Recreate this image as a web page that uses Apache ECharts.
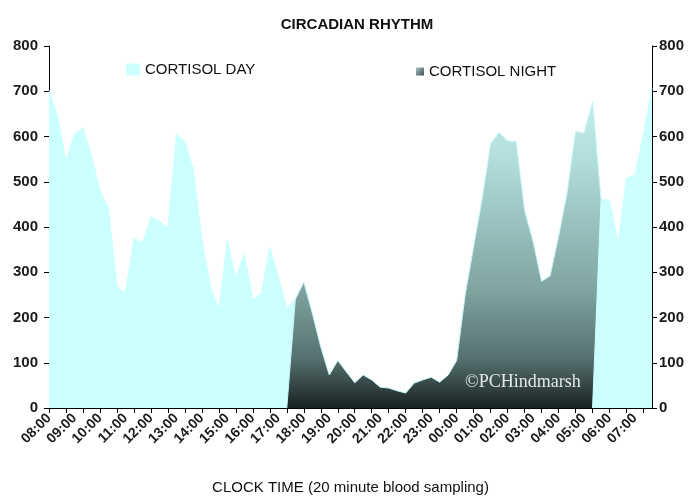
<!DOCTYPE html>
<html>
<head>
<meta charset="utf-8">
<style>
    html, body { margin: 0; padding: 0; background: #fff; }
    #chart { width: 690px; height: 497px; }
</style>
<script src="https://cdn.jsdelivr.net/npm/echarts@6/dist/echarts.min.js"></script>
</head>
<body>
<div id="chart"></div>
<script>
    // 20 minute samples, 08:00 -> 07:40
    var clockTimes = [
        '08:00','08:20','08:40','09:00','09:20','09:40','10:00','10:20','10:40','11:00','11:20','11:40',
        '12:00','12:20','12:40','13:00','13:20','13:40','14:00','14:20','14:40','15:00','15:20','15:40',
        '16:00','16:20','16:40','17:00','17:20','17:40','18:00','18:20','18:40','19:00','19:20','19:40',
        '20:00','20:20','20:40','21:00','21:20','21:40','22:00','22:20','22:40','23:00','23:20','23:40',
        '00:00','00:20','00:40','01:00','01:20','01:40','02:00','02:20','02:40','03:00','03:20','03:40',
        '04:00','04:20','04:40','05:00','05:20','05:40','06:00','06:20','06:40','07:00','07:20','07:40'
    ];
    // day samples before the night (08:00 - 17:40)
    var cortisolDayEarly = [
        702, 645, 546, 605, 619, 558, 481, 442, 268, 255,
        374, 365, 423, 413, 397, 605, 588, 526, 375, 268,
        218, 371, 285, 342, 238, 254, 356, 290, 221, 240,
        null, null, null, null, null, null, null, null, null, null,
        null, null, null, null, null, null, null, null, null, null,
        null, null, null, null, null, null, null, null, null, null,
        null, null, null, null, null, null, null, null, null, null,
        null, null
    ];
    // day samples after the night (05:20 - 07:40)
    var cortisolDayLate = [
        null, null, null, null, null, null, null, null, null, null,
        null, null, null, null, null, null, null, null, null, null,
        null, null, null, null, null, null, null, null, null, null,
        null, null, null, null, null, null, null, null, null, null,
        null, null, null, null, null, null, null, null, null, null,
        null, null, null, null, null, null, null, null, null, null,
        null, null, null, null,
        0, 460, 460, 364, 508, 515, 607, 707
    ];
    var cortisolNight = [
        null, null, null, null, null, null, null, null, null, null,
        null, null, null, null, null, null, null, null, null, null,
        null, null, null, null, null, null, null, null,
        0, 240, 278, 210, 135, 73, 105, 80, 56, 73, 62,
        46, 44, 38, 33, 55, 62, 68, 57, 73, 105,
        250, 357, 462, 584, 609, 590, 589, 436, 368, 280,
        292, 379, 475, 611, 607, 677, 460,
        null, null, null, null, null, null
    ];
    var yMin = 0, yMax = 800, yStep = 100;

    var font = "'Liberation Sans', Arial, sans-serif";
    var dayColor = '#ccffff';
    var nightFill = new echarts.graphic.LinearGradient(0, 0, 0, 1, [
        {offset: 0, color: '#c4eeec'},
        {offset: 0.2, color: '#b0dcda'},
        {offset: 0.62, color: '#7fa3a0'},
        {offset: 0.84, color: '#55706e'},
        {offset: 1, color: '#182222'}
    ]);
    var nightIcon = new echarts.graphic.LinearGradient(0, 0, 1, 1, [
        {offset: 0, color: '#a8c4c2'},
        {offset: 1, color: '#3c5250'}
    ]);

    function yAxisOf(pos, margin) {
        return {
            type: 'value',
            position: pos,
            min: yMin,
            max: yMax,
            interval: yStep,
            splitLine: {show: false},
            axisLine: {show: true, lineStyle: {color: '#000', width: 1}},
            axisTick: {show: true, length: 5, lineStyle: {color: '#000'}},
            axisLabel: {margin: margin, color: '#1a1a1a', fontSize: 15, fontWeight: 'bold', fontFamily: font}
        };
    }

    function daySeries(data, z) {
        return {
            name: 'CORTISOL DAY',
            type: 'line',
            z: z,
            symbol: 'none',
            connectNulls: false,
            data: data,
            lineStyle: {color: dayColor, width: 1},
            itemStyle: {color: dayColor},
            areaStyle: {color: dayColor, opacity: 1}
        };
    }

    var myChart = echarts.init(document.getElementById('chart'));
    var option = {
        animation: false,
        backgroundColor: '#fff',
        title: {
            text: 'CIRCADIAN RHYTHM',
            left: 352,
            textAlign: 'center',
            top: 12,
            textStyle: {fontSize: 15, fontWeight: 'bold', color: '#111', fontFamily: font}
        },
        legend: [
            {
                left: 126, top: 62, padding: 0, icon: 'rect', itemWidth: 14, itemHeight: 12,
                selectedMode: false,
                data: [{name: 'CORTISOL DAY', itemStyle: {color: dayColor}}],
                textStyle: {fontSize: 15, color: '#111', fontFamily: font}
            },
            {
                left: 416, top: 64, padding: 0, icon: 'rect', itemWidth: 8, itemHeight: 8,
                selectedMode: false,
                data: [{name: 'CORTISOL NIGHT', itemStyle: {color: nightIcon}}],
                textStyle: {fontSize: 15, color: '#111', fontFamily: font}
            }
        ],
        grid: {left: 49, right: 38, top: 46, bottom: 89, containLabel: false, outerBoundsMode: 'none'},
        xAxis: {
            type: 'category',
            boundaryGap: false,
            data: clockTimes,
            name: 'CLOCK TIME (20 minute blood sampling)',
            nameLocation: 'middle',
            nameGap: 72,
            nameTextStyle: {fontSize: 15, color: '#111', fontFamily: font},
            axisLine: {lineStyle: {color: '#000', width: 1}},
            axisTick: {
                length: 5,
                lineStyle: {color: '#000'},
                interval: function (i) { return i % 2 === 0; }
            },
            axisLabel: {
                interval: function (i) { return i % 3 === 0; },
                rotate: 45,
                margin: 8,
                color: '#1a1a1a',
                fontSize: 14,
                fontWeight: 'bold',
                fontFamily: font
            }
        },
        yAxis: [yAxisOf('left', 11), yAxisOf('right', 7)],
        series: [
            daySeries(cortisolDayEarly, 1),
            {
                name: 'CORTISOL NIGHT',
                type: 'line',
                z: 2,
                symbol: 'none',
                connectNulls: false,
                data: cortisolNight,
                lineStyle: {color: '#c4f6f6', width: 1},
                itemStyle: {color: '#6f8f8d'},
                areaStyle: {color: nightFill, opacity: 1}
            },
            daySeries(cortisolDayLate, 3)
        ],
        graphic: [
            {
                type: 'text',
                left: 465,
                top: 373,
                z: 100,
                style: {
                    text: '\u00A9PCHindmarsh',
                    fill: '#e4e8e8',
                    font: "18px 'Liberation Serif', 'Times New Roman', serif"
                }
            }
        ]
    };
    myChart.setOption(option, true);
</script>
</body>
</html>
